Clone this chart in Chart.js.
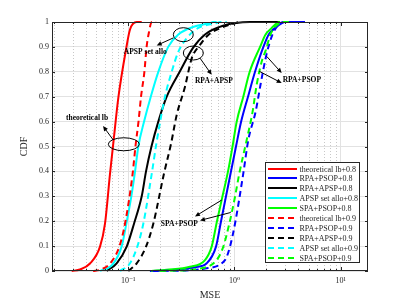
<!DOCTYPE html>
<html>
<head>
<meta charset="utf-8">
<style>
  html, body { margin: 0; padding: 0; background: #fff; }
</style>
</head>
<body>
<canvas id="cdf" width="407" height="305"></canvas>
<script src="https://cdn.jsdelivr.net/npm/chart.js@4.4.1/dist/chart.umd.min.js"></script>
<script>
// [MSE, CDF] pairs
var theoLb08  = [[0.0294,0],[0.0352,0.006],[0.0437,0.03],[0.0543,0.098],[0.0605,0.19],[0.0674,0.39],[0.0727,0.52],[0.081,0.7],[0.0954,0.89],[0.104,0.97],[0.12,1],[0.134,1]];
var rpaPsop08 = [[0.16,0],[0.2756,0.005],[0.425,0.015],[0.5476,0.031],[0.67,0.098],[0.747,0.2],[0.832,0.3],[0.927,0.4],[1.033,0.5],[1.155,0.6],[1.34,0.7],[1.56,0.8],[1.87,0.9],[2.1,0.95],[2.404,0.976],[2.798,0.996],[2.986,1],[4.6,1]];
var rpaApsp08 = [[0.0628,0],[0.0779,0.031],[0.0968,0.098],[0.1134,0.19],[0.134,0.3],[0.1471,0.4],[0.1655,0.5],[0.192,0.6],[0.2302,0.7],[0.305,0.8],[0.407,0.896],[0.528,0.95],[0.78,0.985],[1.4,1],[2.68,1]];
var apsp08    = [[0.0543,0],[0.0724,0.03],[0.0869,0.1],[0.097,0.2],[0.107,0.3],[0.116,0.4],[0.1245,0.5],[0.141,0.6],[0.163,0.7],[0.192,0.8],[0.238,0.9],[0.296,0.95],[0.407,0.98],[0.588,0.996],[0.628,1],[0.68,1]];
var spaPsop08 = [[0.165,0],[0.23,0.005],[0.381,0.017],[0.528,0.044],[0.61,0.098],[0.684,0.2],[0.771,0.3],[0.869,0.4],[0.958,0.5],[1.049,0.6],[1.21,0.7],[1.39,0.8],[1.74,0.9],[1.96,0.95],[2.24,0.976],[2.51,0.996],[2.68,1]];
var theoLb09  = [[0.0467,0],[0.0543,0.005],[0.0674,0.03],[0.0825,0.098],[0.0933,0.19],[0.11,0.39],[0.117,0.5],[0.125,0.6],[0.132,0.7],[0.142,0.8],[0.149,0.9],[0.157,0.96],[0.166,1],[0.183,1]];
var rpaPsop09 = [[0.17,0],[0.3814,0.003],[0.528,0.01],[0.814,0.044],[0.907,0.098],[1.011,0.19],[1.21,0.392],[1.348,0.526],[1.58,0.64],[1.76,0.75],[2.0,0.87],[2.28,0.95],[2.6,0.99],[2.95,1],[4.6,1]];
var rpaApsp09 = [[0.1002,0],[0.1202,0.031],[0.1471,0.098],[0.1722,0.19],[0.2172,0.392],[0.2526,0.51],[0.286,0.627],[0.3422,0.74],[0.3957,0.854],[0.4736,0.908],[0.5669,0.948],[0.73,0.975],[1.1,1]];
var apsp09    = [[0.0837,0],[0.104,0.031],[0.1218,0.098],[0.1387,0.19],[0.1664,0.39],[0.1854,0.52],[0.2219,0.7],[0.2565,0.8],[0.296,0.88],[0.355,0.935],[0.4565,0.976],[0.68,0.996],[0.73,1],[0.845,1]];
var spaPsop09 = [[0.2,0],[0.4736,0.01],[0.68,0.044],[0.785,0.098],[0.8935,0.19],[1.011,0.298],[1.11,0.392],[1.302,0.526],[1.48,0.64],[1.62,0.75],[1.8,0.84],[1.98,0.89],[2.18,0.95],[2.4,0.98],[2.7,0.996],[2.88,1],[3.33,1]];

var seriesData   = [theoLb08, rpaPsop08, rpaApsp08, apsp08, spaPsop08, theoLb09, rpaPsop09, rpaApsp09, apsp09, spaPsop09];
var seriesLabels = ['theoretical lb+0.8', 'RPA+PSOP+0.8', 'RPA+APSP+0.8', 'APSP set allo+0.8', 'SPA+PSOP+0.8',
                    'theoretical lb+0.9', 'RPA+PSOP+0.9', 'RPA+APSP+0.9', 'APSP set allo+0.9', 'SPA+PSOP+0.9'];
var seriesColors = ['#ff0000', '#0000ff', '#000000', '#00ffff', '#00ff00',
                    '#ff0000', '#0000ff', '#000000', '#00ffff', '#00ff00'];
var seriesDashed = [false, false, false, false, false, true, true, true, true, true];

var xDecades     = [0.01, 0.1, 1, 10];
var xTickValues  = [0.1, 1, 10];
var xTickLabels  = ['10\u207b\u00b9', '10\u2070', '10\u00b9'];
var yTickValues  = [0, 0.1, 0.2, 0.3, 0.4, 0.5, 0.6, 0.7, 0.8, 0.9, 1];

// text callouts, in data coordinates [MSE, CDF]
var callTexts = [
  ['APSP set allo', 0.1448, 0.879],
  ['RPA+APSP', 0.64, 0.764],
  ['RPA+PSOP', 4.3, 0.768],
  ['theoretical lb', 0.041, 0.615],
  ['SPA+PSOP', 0.3025, 0.188]
];
var callEllipses = [[0.330, 0.949, 10, 7], [0.41, 0.8755, 10, 7], [0.0909, 0.509, 15.5, 6.5]];
var callArrows = [
  [0.2656, 0.936, 0.1854, 0.906],
  [0.4736, 0.855, 0.61, 0.788],
  [2.009, 0.862, 2.78, 0.795],
  [1.711, 0.802, 2.78, 0.755],
  [0.0724, 0.526, 0.058, 0.582],
  [0.758, 0.285, 0.4249, 0.219],
  [0.921, 0.235, 0.4736, 0.203]
];

var X_MIN = 0.01919, X_MAX = 18.03;
var serif = '"Liberation Serif", "Times New Roman", "DejaVu Serif", serif';
Chart.defaults.font.family = serif;
Chart.defaults.color = '#262626';

var minorTicks = [];
xDecades.forEach(function (d) {
  for (var m = 1; m <= 9; m++) {
    var v = parseFloat((d * m).toPrecision(6));
    if (v >= X_MIN && v <= X_MAX) minorTicks.push(v);
  }
});
function isDecade(v) {
  var l = Math.log10(v);
  return Math.abs(l - Math.round(l)) < 1e-9;
}

var datasets = seriesData.map(function (pts, i) {
  return {
    label: seriesLabels[i],
    data: pts.map(function (p) { return { x: p[0], y: p[1] }; }),
    borderColor: seriesColors[i],
    borderWidth: 2,
    borderDash: seriesDashed[i] ? [6, 4] : [],
    pointRadius: 0,
    fill: false,
    cubicInterpolationMode: 'monotone',
    clip: 2,
    order: seriesData.length - i
  };
});

function drawArrow(c, x1, y1, x2, y2) {
  var ang = Math.atan2(y2 - y1, x2 - x1), L = 5, W = 2.3;
  c.beginPath(); c.moveTo(x1, y1); c.lineTo(x2 - Math.cos(ang) * 3, y2 - Math.sin(ang) * 3); c.stroke();
  c.beginPath();
  c.moveTo(x2, y2);
  c.lineTo(x2 - L * Math.cos(ang) + W * Math.sin(ang), y2 - L * Math.sin(ang) - W * Math.cos(ang));
  c.lineTo(x2 - L * Math.cos(ang) - W * Math.sin(ang), y2 - L * Math.sin(ang) + W * Math.cos(ang));
  c.closePath(); c.fill();
}

var matlabLook = {
  id: 'matlabLook',
  beforeDatasetsDraw: function (chart) {
    var a = chart.chartArea, x = chart.scales.x, c = chart.ctx;
    c.save();
    c.strokeStyle = '#c8c8c8'; c.lineWidth = 1; c.setLineDash([1, 2]);
    x.ticks.forEach(function (t) {
      if (t.major) return;
      var px = Math.round(x.getPixelForValue(t.value)) + 0.5;
      c.beginPath(); c.moveTo(px, a.top); c.lineTo(px, a.bottom); c.stroke();
    });
    c.restore();
  },
  afterDatasetsDraw: function (chart) {
    var a = chart.chartArea, x = chart.scales.x, y = chart.scales.y, c = chart.ctx;
    c.save();
    c.strokeStyle = '#262626'; c.lineWidth = 1;
    c.strokeRect(a.left + 0.5, a.top + 0.5, a.right - a.left - 1, a.bottom - a.top - 1);
    c.beginPath();
    x.ticks.forEach(function (t) {
      var px = Math.round(x.getPixelForValue(t.value)) + 0.5, len = t.major ? 4 : 2;
      c.moveTo(px, a.bottom); c.lineTo(px, a.bottom - len);
      c.moveTo(px, a.top); c.lineTo(px, a.top + len);
    });
    y.ticks.forEach(function (t) {
      var py = Math.round(y.getPixelForValue(t.value)) + 0.5;
      c.moveTo(a.left, py); c.lineTo(a.left + 3, py);
      c.moveTo(a.right, py); c.lineTo(a.right - 3, py);
    });
    c.stroke();
    c.restore();
  },
  afterDraw: function (chart) {
    var x = chart.scales.x, y = chart.scales.y, c = chart.ctx;
    c.save();
    // callouts
    c.strokeStyle = '#000'; c.fillStyle = '#000'; c.lineWidth = 1;
    callEllipses.forEach(function (e) {
      c.beginPath();
      c.ellipse(x.getPixelForValue(e[0]), y.getPixelForValue(e[1]), e[2], e[3], 0, 0, Math.PI * 2);
      c.stroke();
    });
    callArrows.forEach(function (r) {
      drawArrow(c, x.getPixelForValue(r[0]), y.getPixelForValue(r[1]), x.getPixelForValue(r[2]), y.getPixelForValue(r[3]));
    });
    c.font = 'bold 7.5px ' + serif;
    c.textAlign = 'center'; c.textBaseline = 'middle';
    callTexts.forEach(function (t) {
      c.fillText(t[0], x.getPixelForValue(t[1]), y.getPixelForValue(t[2]));
    });
    // legend box
    var bx = 265.5, by = 162.5, bw = 94, bh = 100, row0 = 168.5, gap = 9.9;
    c.fillStyle = '#fff';
    c.fillRect(bx, by, bw, bh);
    c.strokeStyle = '#262626';
    c.strokeRect(bx, by, bw, bh);
    c.font = '8px ' + serif;
    c.textAlign = 'left';
    chart.data.datasets.forEach(function (ds, i) {
      var ry = Math.round(row0 + i * gap);
      c.strokeStyle = ds.borderColor; c.lineWidth = 2;
      c.setLineDash(ds.borderDash);
      c.beginPath(); c.moveTo(268, ry); c.lineTo(297, ry); c.stroke();
      c.setLineDash([]);
      c.fillStyle = '#262626';
      c.fillText(ds.label, 299.5, ry + 0.5);
    });
    c.restore();
  }
};

new Chart(document.getElementById('cdf'), {
  type: 'line',
  data: { datasets: datasets },
  plugins: [matlabLook],
  options: {
    responsive: false,
    animation: false,
    devicePixelRatio: 1,
    layout: { padding: { left: 14, top: 22, right: 39, bottom: 0 } },
    plugins: { legend: { display: false }, tooltip: { enabled: false } },
    scales: {
      x: {
        type: 'logarithmic',
        min: X_MIN,
        max: X_MAX,
        afterBuildTicks: function (s) {
          s.ticks = minorTicks.map(function (v) { return { value: v, major: isDecade(v) }; });
        },
        afterFit: function (s) { s.height = 34; },
        ticks: {
          autoSkip: false,
          maxRotation: 0,
          padding: 5,
          font: { size: 8 },
          callback: function (v) {
            var k = xTickValues.findIndex(function (t) { return Math.abs(t - v) / t < 1e-6; });
            return k >= 0 ? xTickLabels[k] : '';
          }
        },
        grid: {
          drawTicks: false,
          color: function (ctx) { return ctx.tick && ctx.tick.major ? '#e2e2e2' : 'rgba(0,0,0,0)'; }
        },
        border: { display: false },
        title: { display: true, text: 'MSE', font: { size: 10 }, padding: { top: 0, bottom: 4 } }
      },
      y: {
        type: 'linear',
        min: 0,
        max: 1,
        afterBuildTicks: function (s) {
          s.ticks = yTickValues.map(function (v) { return { value: v }; });
        },
        afterFit: function (s) { s.width = 38; },
        ticks: {
          padding: 3,
          font: { size: 8 },
          callback: function (v) { return String(Math.round(v * 10) / 10); }
        },
        grid: { drawTicks: false, color: '#e2e2e2' },
        border: { display: false },
        title: { display: true, text: 'CDF', font: { size: 10 }, padding: { top: 4, bottom: 0 } }
      }
    }
  }
});
</script>
</body>
</html>
